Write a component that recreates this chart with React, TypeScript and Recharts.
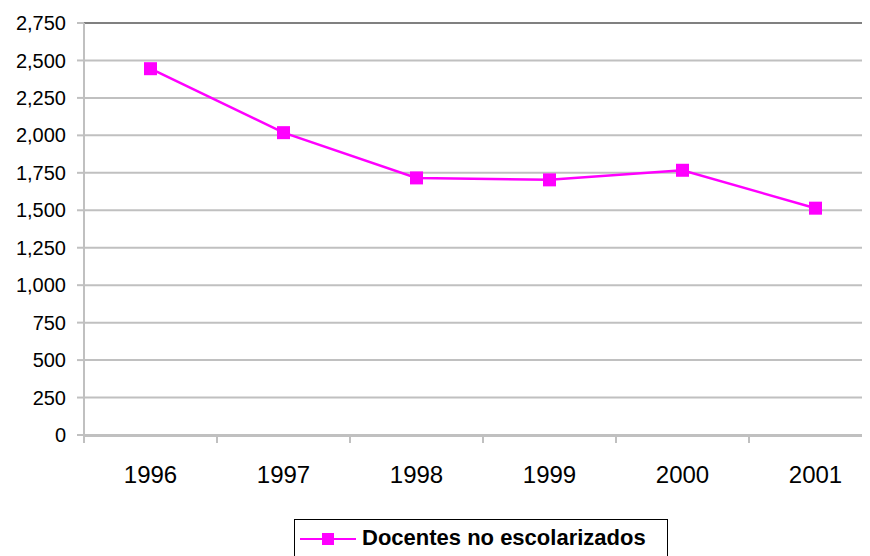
import { LineChart, Line, XAxis, YAxis, CartesianGrid, Legend, ReferenceLine } from 'recharts';

const years = ['1996', '1997', '1998', '1999', '2000', '2001'];
const docentes = [2445, 2018, 1716, 1703, 1767, 1514];
const yTicks = [0, 250, 500, 750, 1000, 1250, 1500, 1750, 2000, 2250, 2500, 2750];
const boundaryTicks = [0, 1, 2, 3, 4, 5, 6];

// pos = centre of each category slot, only used by the tick-mark axis
const data = years.map((year, i) => ({ year, pos: i + 0.5, docentes: docentes[i] }));

const MAGENTA = '#ff00ff';
const FONT = '"Liberation Sans", Arial, sans-serif';

const SquareDot = (props: any) => {
    const { cx, cy } = props;
    if (cx == null || cy == null) return null;
    return <rect x={cx - 6.5} y={cy - 6.5} width={13} height={13} fill={MAGENTA} />;
};

const LegendBox = () => (
    <div
        style={{
            boxSizing: 'border-box',
            width: 374,
            height: 40,
            border: '1.5px solid #000',
            display: 'flex',
            alignItems: 'center',
            fontFamily: FONT,
        }}
    >
        <svg width={62} height={20} style={{ marginLeft: 5 }}>
            <line x1={0} y1={10} x2={56} y2={10} stroke={MAGENTA} strokeWidth={2} />
            <rect x={22} y={4} width={12} height={12} fill={MAGENTA} />
        </svg>
        <span style={{ fontSize: 22, fontWeight: 'bold', color: '#000', marginTop: -3 }}>
            Docentes no escolarizados
        </span>
    </div>
);

export default function App() {
    return (
        <div style={{ width: 862, height: 548, overflow: 'hidden', position: 'relative', background: '#fff' }}>
            <LineChart width={900} height={548} data={data} margin={{ top: 15, right: 26, left: 6, bottom: 0 }}>
                <CartesianGrid vertical={false} stroke="#c0c0c0" strokeWidth={2} />
                <XAxis dataKey="year" scale="band" axisLine={false} tickLine={false} height={1} tickMargin={25}
                    tick={{ fill: '#000', fontSize: 24, fontFamily: FONT }} />
                <XAxis xAxisId="t" dataKey="pos" type="number" domain={[0, 6]} ticks={boundaryTicks} interval={0}
                    height={80} allowDataOverflow stroke="#c0c0c0" strokeWidth={2} tickSize={7}
                    tickFormatter={() => ''} />
                <YAxis domain={[0, 2750]} ticks={yTicks} interval={0} width={70}
                    stroke="#c0c0c0" strokeWidth={2} tickSize={7} tickMargin={11}
                    tickFormatter={(v) => v.toLocaleString('en-US')}
                    tick={{ fill: '#000', fontSize: 20, fontFamily: FONT }} />
                <ReferenceLine y={2750} stroke="#808080" strokeWidth={2} />
                <Legend verticalAlign="bottom" content={<LegendBox />}
                    wrapperStyle={{ left: 286, top: 511, width: 374, height: 40 }} />
                <Line type="linear" dataKey="docentes" name="Docentes no escolarizados" stroke={MAGENTA}
                    strokeWidth={2.5} dot={<SquareDot />} activeDot={false} isAnimationActive={false} />
            </LineChart>
        </div>
    );
}
